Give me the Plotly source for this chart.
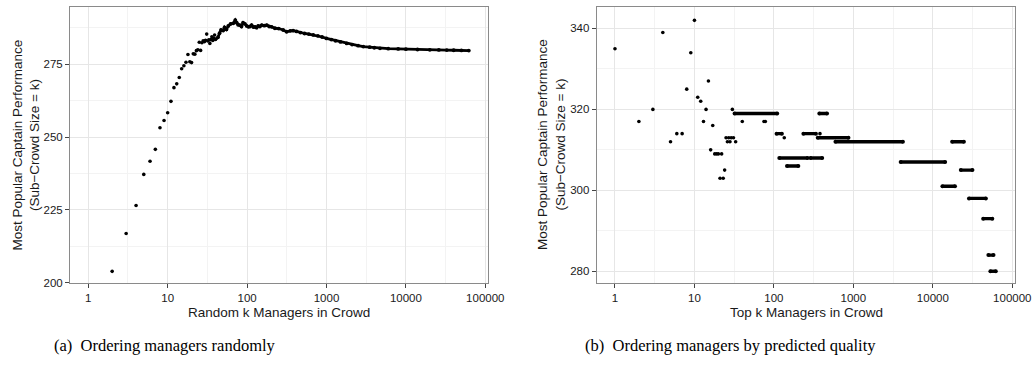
import plotly.graph_objects as go

# ---------------- data ----------------
# Panel (a): random ordering, individual early points
rand_k_early = [2, 3, 4, 5, 6, 7, 8, 9, 10, 11, 12, 13, 14, 15, 16, 17, 18, 19, 20,
                21, 22, 23, 24, 25, 26, 27, 28, 29, 30, 31, 32, 33, 34, 35, 36, 37, 38, 39]
rand_v_early = [203.9, 216.9, 226.5, 237.2, 241.7, 245.8, 253.2, 255.7, 258.4, 262.3,
                267.0, 268.3, 270.5, 273.5, 274.5, 275.7, 278.4, 275.9, 275.6, 278.6,
                278.5, 279.7, 280.0, 282.6, 279.8, 282.4, 283.1, 282.8, 283.3, 285.4,
                283.0, 283.4, 282.2, 283.5, 284.5, 283.2, 284.0, 285.1]
# Panel (a): dense band (k >= 40)
rand_k_band = [40, 43, 45, 47, 50, 52, 55, 58, 62, 67, 71, 74, 77, 81, 85, 89, 94, 99,
               104, 109, 114, 120, 126, 132, 138, 145, 153, 165, 177, 190, 204, 224, 250,
               285, 315, 350, 380, 420, 470, 530, 600, 682, 780, 880, 1000, 1150, 1300,
               1500, 1795, 2100, 2500, 2910, 3500, 4000, 4720, 6000, 8000, 10000, 14000,
               20000, 26000, 32700, 40000, 50000, 62000]
rand_v_band = [283.6, 284.3, 285.7, 286.8, 286.6, 287.7, 287.0, 288.2, 288.9, 289.1,
               290.2, 289.3, 288.6, 288.5, 288.0, 289.3, 288.9, 288.2, 287.9, 288.0,
               288.5, 287.8, 287.9, 287.6, 288.2, 288.0, 288.5, 288.3, 288.5, 288.0,
               287.9, 287.4, 287.3, 286.8, 286.2, 286.5, 286.6, 286.3, 285.9, 285.6,
               285.4, 285.1, 284.8, 284.4, 283.9, 283.5, 283.1, 282.7, 282.2, 281.8,
               281.4, 281.1, 280.9, 280.7, 280.5, 280.4, 280.3, 280.2, 280.1, 280.0,
               279.95, 279.9, 279.85, 279.8, 279.75]

# Panel (b): ordering by predicted quality, individual points
top_k_pts = [1, 2, 3, 4, 5, 6, 7, 8, 9, 10, 11, 12, 13, 14, 15, 16, 17, 18, 19, 20,
             21, 22, 23, 24, 25, 26, 27, 28, 29, 30, 31, 33, 40, 75, 78, 135, 380]
top_v_pts = [335, 317, 320, 339, 312, 314, 314, 325, 334, 342, 323, 322, 317, 320, 327,
             310, 316, 309, 309, 309, 303, 309, 303, 305, 313, 312, 313, 312, 313, 320,
             313, 312, 317, 317, 317, 313, 314]
# Panel (b): runs of constant value (start k, end k, value)
run_start = [32, 108, 117, 288, 146, 235, 373, 356, 595, 3940, 13200, 17500, 22500,
             28500, 43000, 50000, 53000]
run_end = [110, 126, 265, 405, 203, 338, 466, 867, 4200, 14280, 19000, 24600, 31500,
           46500, 56000, 58000, 62000]
run_value = [319, 314, 308, 308, 306, 314, 319, 313, 312, 307, 301, 312, 305, 298,
             293, 284, 280]

x_tickvals = [1, 10, 100, 1000, 10000, 100000]
x_ticktext = ["1", "10", "100", "1000", "10000", "100000"]
x_minorvals = [3.1623, 31.623, 316.23, 3162.3, 31623]
ya_tickvals = [200, 225, 250, 275]
yb_tickvals = [280, 300, 320, 340]

# ---------------- figure ----------------
fig = go.Figure()

fig.add_trace(go.Scatter(x=rand_k_band, y=rand_v_band, mode="lines+markers",
                         line=dict(color="black", width=2.8),
                         marker=dict(color="black", size=3.8),
                         xaxis="x", yaxis="y", showlegend=False))
fig.add_trace(go.Scatter(x=rand_k_early, y=rand_v_early, mode="markers",
                         marker=dict(color="black", size=3.6),
                         xaxis="x", yaxis="y", showlegend=False))

seg_x, seg_y = [], []
for s, e, v in zip(run_start, run_end, run_value):
    seg_x += [s, e, None]
    seg_y += [v, v, None]
fig.add_trace(go.Scatter(x=seg_x, y=seg_y, mode="lines+markers",
                         line=dict(color="black", width=3.4),
                         marker=dict(color="black", size=4),
                         xaxis="x2", yaxis="y2", showlegend=False, connectgaps=False))
fig.add_trace(go.Scatter(x=top_k_pts, y=top_v_pts, mode="markers",
                         marker=dict(color="black", size=3.6),
                         xaxis="x2", yaxis="y2", showlegend=False))

W, H = 1033, 365
ydom = [(H - 283) / H, (H - 7) / H]
tickfont = dict(family="Liberation Sans, Arial, sans-serif", size=11.5, color="#1a1a1a")

common_x = dict(type="log", tickmode="array", tickvals=x_tickvals, ticktext=x_ticktext,
                range=[-0.23, 5.034], showgrid=True, gridcolor="#e6e6e6", gridwidth=1.2,
                minor=dict(tickmode="array", tickvals=x_minorvals, showgrid=True,
                           gridcolor="#f3f3f3", gridwidth=1, ticks=""),
                showline=True, mirror=True, linecolor="#8a8a8a", linewidth=1,
                ticks="outside", ticklen=4, tickcolor="#444444", tickwidth=1,
                tickfont=tickfont, zeroline=False, automargin=False)
common_y = dict(showgrid=True, gridcolor="#e6e6e6", gridwidth=1.2,
                showline=True, mirror=True, linecolor="#8a8a8a", linewidth=1,
                ticks="outside", ticklen=4, tickcolor="#444444", tickwidth=1,
                tickfont=tickfont, zeroline=False, domain=ydom, automargin=False)

fig.update_layout(
    width=W, height=H,
    margin=dict(l=0, r=0, t=0, b=0),
    paper_bgcolor="white", plot_bgcolor="white",
    xaxis=dict(domain=[70 / W, 488 / W], anchor="y", **common_x),
    xaxis2=dict(domain=[596.7 / W, 1015 / W], anchor="y2", **common_x),
    yaxis=dict(anchor="x", range=[199.9, 294.7], tickmode="array", tickvals=ya_tickvals,
               minor=dict(dtick=12.5, tick0=200, showgrid=True, gridcolor="#f3f3f3", ticks=""),
               **common_y),
    yaxis2=dict(anchor="x2", range=[277.1, 345.3], tickmode="array", tickvals=yb_tickvals,
                minor=dict(dtick=10, tick0=280, showgrid=True, gridcolor="#f3f3f3", ticks=""),
                **common_y),
)

titlefont = dict(family="Liberation Sans, Arial, sans-serif", size=13.5, color="#1a1a1a")
ytitle = "Most Popular Captain Performance<br>(Sub\u2212Crowd Size = k)"
ycen = (H - 145) / H
fig.add_annotation(text=ytitle, x=25.5 / W, y=ycen, xref="paper", yref="paper",
                   textangle=-90, showarrow=False, font=titlefont,
                   xanchor="center", yanchor="middle")
fig.add_annotation(text=ytitle, x=551 / W, y=ycen, xref="paper", yref="paper",
                   textangle=-90, showarrow=False, font=titlefont,
                   xanchor="center", yanchor="middle")
fig.add_annotation(text="Random k Managers in Crowd", x=279 / W, y=(H - 312.5) / H,
                   xref="paper", yref="paper", showarrow=False, font=titlefont,
                   xanchor="center", yanchor="middle")
fig.add_annotation(text="Top k Managers in Crowd", x=806 / W, y=(H - 312.5) / H,
                   xref="paper", yref="paper", showarrow=False, font=titlefont,
                   xanchor="center", yanchor="middle")

capfont = dict(family="Liberation Serif, Times New Roman, serif", size=16.5, color="black")
fig.add_annotation(text="(a)  Ordering managers randomly", x=165 / W, y=(H - 345) / H,
                   xref="paper", yref="paper", showarrow=False, font=capfont,
                   xanchor="center", yanchor="middle")
fig.add_annotation(text="(b)  Ordering managers by predicted quality", x=730 / W,
                   y=(H - 345) / H, xref="paper", yref="paper", showarrow=False,
                   font=capfont, xanchor="center", yanchor="middle")

fig.write_html("out.html")
